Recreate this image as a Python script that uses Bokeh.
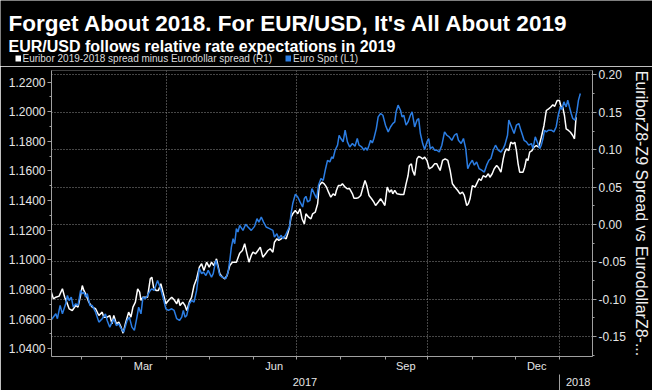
import pandas as pd
from bokeh.plotting import figure
from bokeh.models import (Range1d, LinearAxis, FixedTicker, NumeralTickFormatter,
                          Grid, Label, Legend, LegendItem)
from bokeh.embed import file_html
from bokeh.resources import INLINE

# ---------------- data (days since 2017-01-01) -------------
BASE_DATE = "2017-01-01"

euro_days = [9.4, 12.9, 14.0, 15.9, 17.5, 19.8, 21.0, 22.2, 23.7, 25.1, 26.8, 28.4, 30.2, 31.4, 32.5, 33.7,
             34.9, 36.7, 38.3, 40.7, 43.0, 45.3, 47.6, 48.8, 50.6, 52.2, 53.4, 55.2, 56.9, 58.0, 60.3, 62.7,
             64.3, 66.1, 67.8, 69.6, 70.8, 72.4, 73.8, 75.4, 77.0, 78.9, 80.0, 81.6, 84.0, 85.8, 88.1, 89.8,
             91.6, 93.9, 95.6, 97.4, 99.3, 100.9, 102.0, 103.2, 104.4, 106.2, 107.8, 109.5, 111.3, 113.2,
             114.8, 116.0, 117.8, 119.4, 121.7, 122.9, 124.7, 126.4, 127.5, 129.4, 131.7, 133.3, 134.5, 135.6,
             136.8, 137.9, 139.1, 140.2, 141.4, 143.7, 145.6, 147.2, 149.5, 151.8, 153.5, 154.8, 156.5, 158.1,
             159.9, 162.3, 164.6, 165.7, 167.4, 168.7, 170.4, 171.5, 173.4, 175.0, 176.2, 177.3, 178.5, 180.3,
             182.0, 183.6, 185.4, 186.6, 187.7, 188.9, 190.5, 191.9, 193.5, 195.2, 196.5, 198.2, 199.8, 201.2,
             202.8, 204.4, 205.8, 206.7, 208.1, 209.8, 210.9, 212.1, 213.7, 215.1, 216.7, 218.3, 220.2, 222.0,
             223.6, 224.8, 226.7, 228.3, 229.4, 230.6, 231.8, 232.9, 234.1, 235.2, 236.9, 238.2, 239.9, 241.5,
             243.3, 245.2, 246.8, 248.4, 249.8, 250.7, 252.1, 253.8, 254.9, 256.1, 257.7, 259.1, 260.7, 261.9,
             263.7, 265.3, 266.5, 267.7, 269.3, 270.7, 272.3, 273.5, 274.6, 276.2, 277.6, 279.2, 280.9, 282.7,
             284.6, 286.2, 287.8, 289.7, 291.5, 293.1, 294.3, 296.2, 297.8, 299.4, 300.8, 302.4, 304.0, 305.4,
             307.0, 308.7, 310.5, 312.4, 314.0, 315.6, 317.0, 318.6, 320.2, 322.1, 324.0, 325.6, 326.7, 328.6,
             329.5, 330.9, 331.8, 333.2, 334.8, 336.5, 338.3, 340.2, 341.8, 343.4, 345.3, 346.4, 348.0, 349.4,
             351.1, 352.2, 353.4, 354.5, 355.7, 357.3, 359.2, 361.0, 362.6, 364.3, 365.6, 366.6, 368.0, 369.6,
             370.7, 371.9, 373.1, 374.2, 375.8, 377.2, 378.2, 379.5]
euro_spot = [1.0591, 1.0636, 1.0603, 1.0693, 1.0636, 1.0704, 1.0760, 1.0726, 1.0749, 1.0681, 1.0704, 1.0693,
             1.0794, 1.0772, 1.0782, 1.0749, 1.0772, 1.0693, 1.0693, 1.0647, 1.0580, 1.0603, 1.0636, 1.0591,
             1.0546, 1.0580, 1.0603, 1.0557, 1.0569, 1.0546, 1.0512, 1.0591, 1.0614, 1.0546, 1.0524, 1.0614,
             1.0681, 1.0636, 1.0749, 1.0738, 1.0760, 1.0794, 1.0805, 1.0794, 1.0861, 1.0816, 1.0738, 1.0670,
             1.0659, 1.0670, 1.0659, 1.0603, 1.0591, 1.0614, 1.0659, 1.0614, 1.0625, 1.0704, 1.0726, 1.0715,
             1.0794, 1.0941, 1.0907, 1.0918, 1.0895, 1.0929, 1.0884, 1.0907, 1.0997, 1.0941, 1.0895, 1.0884,
             1.0873, 1.0918, 1.0997, 1.1086, 1.1143, 1.1109, 1.1211, 1.1188, 1.1233, 1.1199, 1.1240, 1.1222,
             1.1199, 1.1226, 1.1278, 1.1255, 1.1289, 1.1255, 1.1222, 1.1211, 1.1199, 1.1154, 1.1177, 1.1143,
             1.1166, 1.1143, 1.1166, 1.1199, 1.1222, 1.1312, 1.1380, 1.1443, 1.1424, 1.1391, 1.1357, 1.1414,
             1.1429, 1.1391, 1.1402, 1.1481, 1.1447, 1.1414, 1.1503, 1.1549, 1.1537, 1.1605, 1.1672, 1.1661,
             1.1695, 1.1684, 1.1740, 1.1774, 1.1841, 1.1819, 1.1796, 1.1875, 1.1796, 1.1762, 1.1785, 1.1767,
             1.1819, 1.1774, 1.1762, 1.1740, 1.1758, 1.1740, 1.1774, 1.1807, 1.1789, 1.1819, 1.1886, 1.1965,
             1.1988, 1.1976, 1.1909, 1.1864, 1.1897, 1.1920, 1.1931, 1.1999, 1.2044, 1.2010, 1.1965, 1.1976,
             1.1909, 1.1931, 1.1976, 1.1999, 1.1897, 1.1943, 1.1954, 1.1853, 1.1785, 1.1745, 1.1796, 1.1819,
             1.1751, 1.1762, 1.1740, 1.1740, 1.1728, 1.1774, 1.1864, 1.1841, 1.1830, 1.1807, 1.1841, 1.1853,
             1.1807, 1.1785, 1.1819, 1.1751, 1.1616, 1.1650, 1.1672, 1.1639, 1.1661, 1.1616, 1.1605, 1.1593,
             1.1639, 1.1672, 1.1684, 1.1740, 1.1774, 1.1740, 1.1728, 1.1751, 1.1774, 1.1841, 1.1943, 1.1909,
             1.1886, 1.1853, 1.1909, 1.1920, 1.1864, 1.1807, 1.1796, 1.1774, 1.1785, 1.1751, 1.1830, 1.1796,
             1.1751, 1.1774, 1.1819, 1.1875, 1.1864, 1.1875, 1.1875, 1.1864, 1.1897, 1.1988, 1.2032, 1.2015,
             1.2066, 1.2032, 1.2078, 1.2032, 1.1988, 1.1954, 1.1943, 1.2010, 1.2078, 1.2123]

spread_days = [9.4, 11.2, 12.9, 15.2, 17.5, 19.1, 20.5, 22.2, 24.4, 26.8, 28.4, 30.2, 31.4, 32.5, 33.7, 36.0,
               38.3, 40.7, 43.0, 45.3, 46.4, 48.8, 50.6, 52.2, 53.4, 55.2, 56.9, 58.5, 59.9, 61.5, 63.8, 65.4,
               66.8, 68.5, 70.1, 71.5, 72.4, 73.8, 75.4, 77.0, 78.9, 80.0, 81.2, 83.0, 84.6, 86.3, 88.1, 89.8,
               91.6, 93.9, 95.6, 97.4, 98.6, 99.7, 101.6, 103.2, 104.4, 106.2, 107.8, 109.5, 111.3, 113.2,
               114.8, 116.4, 118.3, 120.1, 121.7, 123.3, 125.2, 127.5, 129.4, 131.0, 132.6, 134.5, 136.3, 139.1,
               141.4, 143.3, 144.9, 146.5, 147.9, 149.5, 150.7, 152.5, 154.2, 155.8, 157.6, 159.5, 161.1, 162.7,
               164.6, 165.7, 167.4, 168.7, 170.4, 172.0, 173.9, 175.0, 176.2, 177.3, 178.5, 180.3, 182.0, 183.6,
               185.0, 186.6, 187.7, 189.6, 191.2, 192.4, 194.2, 195.9, 197.0, 198.9, 200.5, 202.1, 203.5, 205.1,
               206.7, 208.1, 209.0, 210.4, 212.1, 213.2, 215.1, 216.7, 218.3, 220.2, 221.3, 222.9, 224.3, 226.0,
               227.6, 229.0, 230.2, 231.8, 233.6, 235.2, 236.4, 238.2, 239.9, 241.5, 242.9, 244.5, 246.1, 247.5,
               248.4, 249.8, 251.4, 253.8, 256.1, 257.7, 259.1, 260.0, 261.4, 262.3, 263.7, 265.3, 266.5, 267.7,
               269.3, 270.7, 272.3, 273.9, 275.8, 277.6, 279.2, 280.3, 281.5, 283.2, 285.0, 286.9, 288.5, 290.1,
               291.9, 293.8, 295.4, 297.1, 298.4, 300.1, 301.2, 302.4, 304.0, 305.9, 307.0, 308.7, 310.1, 311.7,
               313.3, 315.2, 316.3, 317.9, 319.3, 321.0, 322.1, 324.0, 325.6, 326.7, 327.9, 329.5, 330.9, 332.5,
               333.7, 334.8, 336.0, 337.1, 339.4, 340.6, 341.8, 342.9, 344.1, 345.7, 347.1, 348.7, 350.4, 352.2,
               354.1, 355.7, 357.3, 358.7, 360.3, 361.5, 363.3, 364.9, 366.1, 367.2, 368.4, 369.6, 371.2, 372.6,
               374.2, 375.4, 376.5]
rate_spread = [-0.0882, -0.0993, -0.0972, -0.0958, -0.0860, -0.0972, -0.1038, -0.1127, -0.1150, -0.1083,
               -0.1105, -0.0949, -0.0816, -0.0882, -0.0927, -0.1038, -0.1105, -0.1127, -0.1217, -0.1172,
               -0.1239, -0.1239, -0.1217, -0.1328, -0.1217, -0.1328, -0.1306, -0.1373, -0.1453, -0.1328,
               -0.1172, -0.1239, -0.1105, -0.1038, -0.0860, -0.0905, -0.1016, -0.0972, -0.0972, -0.0972,
               -0.0726, -0.0705, -0.0838, -0.0882, -0.0882, -0.0793, -0.0927, -0.1060, -0.1016, -0.0972,
               -0.1007, -0.1060, -0.0993, -0.1083, -0.1038, -0.1083, -0.1150, -0.1038, -0.0972, -0.0816,
               -0.0726, -0.0571, -0.0525, -0.0615, -0.0504, -0.0571, -0.0504, -0.0548, -0.0459, -0.0659,
               -0.0705, -0.0726, -0.0682, -0.0548, -0.0504, -0.0504, -0.0384, -0.0348, -0.0258, -0.0392,
               -0.0504, -0.0414, -0.0370, -0.0392, -0.0348, -0.0303, -0.0437, -0.0392, -0.0348, -0.0325,
               -0.0370, -0.0237, -0.0191, -0.0214, -0.0191, -0.0170, -0.0191, -0.0124, -0.0036, 0.0098,
               0.0143, 0.0187, 0.0143, 0.0210, 0.0076, 0.0009, 0.0143, 0.0098, 0.0076, 0.0143, 0.0164, 0.0277,
               0.0521, 0.0566, 0.0544, 0.0499, 0.0432, 0.0365, 0.0410, 0.0388, 0.0455, 0.0521, 0.0521, 0.0544,
               0.0499, 0.0477, 0.0477, 0.0410, 0.0352, 0.0352, 0.0357, 0.0388, 0.0499, 0.0588, 0.0521, 0.0388,
               0.0344, 0.0298, 0.0254, 0.0298, 0.0344, 0.0298, 0.0254, 0.0499, 0.0432, 0.0464, 0.0410, 0.0455,
               0.0410, 0.0401, 0.0401, 0.0544, 0.0655, 0.0789, 0.0811, 0.0722, 0.0655, 0.0878, 0.0909, 0.0900,
               0.0878, 0.0900, 0.0856, 0.0745, 0.0766, 0.0811, 0.0811, 0.0766, 0.0722, 0.0856, 0.0878, 0.0856,
               0.0722, 0.0544, 0.0499, 0.0455, 0.0410, 0.0432, 0.0388, 0.0254, 0.0276, 0.0344, 0.0521, 0.0499,
               0.0544, 0.0611, 0.0588, 0.0655, 0.0632, 0.0678, 0.0632, 0.0678, 0.0745, 0.0789, 0.0766, 0.0699,
               0.0878, 0.0967, 0.1012, 0.0989, 0.1100, 0.1079, 0.1100, 0.0989, 0.0811, 0.0699, 0.0699, 0.0766,
               0.0878, 0.0856, 0.0967, 0.0989, 0.1033, 0.1056, 0.1033, 0.1167, 0.1324, 0.1524, 0.1547, 0.1568,
               0.1600, 0.1578, 0.1658, 0.1658, 0.1568, 0.1568, 0.1457, 0.1279, 0.1257, 0.1234, 0.1190, 0.1146,
               0.1434]

left_ticks = [1.04, 1.06, 1.08, 1.10, 1.12, 1.14, 1.16, 1.18, 1.20, 1.22]
right_ticks = [-0.15, -0.10, -0.05, 0.00, 0.05, 0.10, 0.15, 0.20]
month_labels = {"2017-03-16": "Mar", "2017-06-15 12:00": "Jun", "2017-09-15 12:00": "Sep", "2017-12-16": "Dec"}
year_labels = {"2017-07-07": "2017", "2018-01-14": "2018"}
month_starts = ["2017-02-01", "2017-03-01", "2017-04-01", "2017-05-01", "2017-06-01", "2017-07-01",
                "2017-08-01", "2017-09-01", "2017-10-01", "2017-11-01", "2017-12-01", "2018-01-01"]
quarter_starts = ["2017-04-01", "2017-07-01", "2017-10-01", "2018-01-01"]
year_breaks = ["2018-01-01"]
x_window = ("2017-01-10 21:00", "2018-01-24")
left_window = (1.0348, 1.2278)
right_window = (-0.1765, 0.2059)

TITLE = "Forget About 2018. For EUR/USD, It's All About 2019"
SUBTITLE = "EUR/USD follows relative rate expectations in 2019"
LEG_SPREAD = "Euribor 2019-2018 spread minus Eurodollar spread (R1)"
LEG_EURO = "Euro Spot (L1)"
RIGHT_LABEL = "EuriborZ8-Z9 Spread vs EurodollarZ8-..."

BLUE = "#2b7de3"
WHITE = "#ffffff"
AXIS = "#a0a0a0"
TEXT = "#e6e6e6"
FONT = "Liberation Sans"
NAN = float("nan")

W = 652
HEAD_H = 66
MAIN_H = 390 - HEAD_H


def ms(s):
    return int(pd.Timestamp(s).value // 10**6)


# ---------------- header: title, subtitle, legend ----------------
head = figure(width=W, height=HEAD_H, output_backend="svg", toolbar_location=None,
              x_range=Range1d(0, W), y_range=Range1d(HEAD_H, 0),
              x_axis_type=None, y_axis_type=None,
              min_border=0, min_border_left=0, min_border_right=0, min_border_top=0, min_border_bottom=0,
              background_fill_color="black", border_fill_color="black", outline_line_color=None)
head.add_layout(Label(x=8, y=23, text=TITLE, text_font=FONT, text_font_size="22.5px",
                      text_font_style="bold", text_color="white", text_baseline="alphabetic"))
head.add_layout(Label(x=8, y=46, text=SUBTITLE, text_font=FONT, text_font_size="16px",
                      text_font_style="bold", text_color="white", text_baseline="alphabetic"))
# swatch renderers: a single missing (NaN) point, so they draw nothing but lend colour to the keys
sw_spread = head.line(x=[NAN], y=[NAN], line_color=WHITE, line_width=6)
sw_euro = head.line(x=[NAN], y=[NAN], line_color=BLUE, line_width=6)
legend = Legend(items=[LegendItem(label=LEG_SPREAD, renderers=[sw_spread]),
                       LegendItem(label=LEG_EURO, renderers=[sw_euro])],
                orientation="horizontal", location=(14.5, 2),
                background_fill_alpha=0, border_line_alpha=0,
                label_text_color="#dcdcdc", label_text_font=FONT, label_text_font_size="10px",
                glyph_width=6, glyph_height=12, label_standoff=2, spacing=13,
                padding=0, margin=0, label_height=12)
head.add_layout(legend)

# ---------------- main chart ----------------
base = pd.Timestamp(BASE_DATE)
euro_x = base + pd.to_timedelta(euro_days, unit="D")
spread_x = base + pd.to_timedelta(spread_days, unit="D")

p = figure(width=W, height=MAIN_H, output_backend="svg", toolbar_location=None,
           x_range=Range1d(ms(x_window[0]), ms(x_window[1])),
           y_range=Range1d(*left_window),
           x_axis_type=None, y_axis_type=None,
           background_fill_color="black", border_fill_color="black",
           outline_line_color=None,
           min_border_left=51, min_border_right=57, min_border_top=70 - HEAD_H, min_border_bottom=34)
p.extra_y_ranges = {"right": Range1d(*right_window)}

p.add_layout(Grid(dimension=0, ticker=FixedTicker(ticks=[ms(d) for d in quarter_starts]),
                  grid_line_color="#8c8c8c", grid_line_dash="1 2", grid_line_width=1))
p.add_layout(Grid(dimension=1, ticker=FixedTicker(ticks=right_ticks), y_range_name="right",
                  grid_line_color="#8c8c8c", grid_line_dash="1 2", grid_line_width=1))

p.line(spread_x, rate_spread, y_range_name="right", line_color=WHITE, line_width=1.5)
p.line(euro_x, euro_spot, line_color=BLUE, line_width=1.5)


def style_axis(ax, size="12px"):
    ax.axis_line_color = AXIS
    ax.major_tick_line_color = AXIS
    ax.minor_tick_line_color = AXIS
    ax.major_label_text_color = TEXT
    ax.major_label_text_font = FONT
    ax.major_label_text_font_size = size


la = LinearAxis(ticker=FixedTicker(ticks=left_ticks,
                                   minor_ticks=[round(1.03 + 0.01 * i, 2) for i in range(21)]),
                formatter=NumeralTickFormatter(format="0.0000"))
style_axis(la)
la.major_tick_out, la.major_tick_in, la.minor_tick_out, la.minor_tick_in = 4, 0, 2, 0
la.major_label_standoff = 2
p.add_layout(la, "left")

ra = LinearAxis(y_range_name="right",
                ticker=FixedTicker(ticks=right_ticks,
                                   minor_ticks=[round(-0.175 + 0.025 * i, 3) for i in range(16)]),
                formatter=NumeralTickFormatter(format="0.00"),
                axis_label=RIGHT_LABEL)
style_axis(ra)
ra.major_tick_out, ra.major_tick_in, ra.minor_tick_out, ra.minor_tick_in = 4, 0, 2, 0
ra.major_label_standoff = 2
ra.axis_label_text_color = "#f0f0f0"
ra.axis_label_text_font = FONT
ra.axis_label_text_font_size = "16px"
ra.axis_label_text_font_style = "normal"
ra.axis_label_standoff = 4
p.add_layout(ra, "right")

ma = LinearAxis(ticker=FixedTicker(ticks=[ms(k) for k in month_labels],
                                   minor_ticks=[ms(d) for d in month_starts]),
                major_label_overrides={ms(k): v for k, v in month_labels.items()})
style_axis(ma, "11px")
ma.major_tick_out, ma.major_tick_in, ma.minor_tick_out, ma.minor_tick_in = 0, 0, 3, 0
ma.major_label_standoff = 0
p.add_layout(ma, "below")

ya = LinearAxis(ticker=FixedTicker(ticks=[ms(k) for k in year_labels],
                                   minor_ticks=[ms(d) for d in year_breaks]),
                major_label_overrides={ms(k): v for k, v in year_labels.items()})
style_axis(ya, "11px")
ya.axis_line_color = None
ya.major_tick_out, ya.major_tick_in, ya.minor_tick_out, ya.minor_tick_in = 0, 0, 18, 0
ya.major_label_standoff = -15
p.add_layout(ya, "below")

html = file_html([head, p], INLINE, title="EUR/USD")
html = html.replace("<body>", '<body style="background-color:#000000;">', 1)
open("out.html", "w").write(html)
